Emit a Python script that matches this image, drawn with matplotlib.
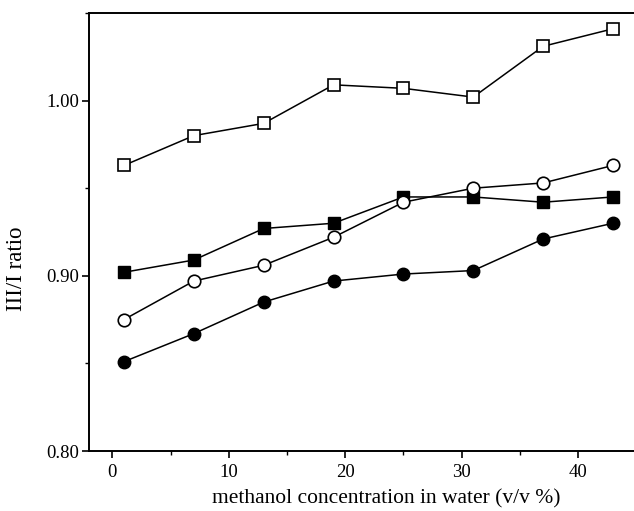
import matplotlib
matplotlib.use("Agg")
import matplotlib.pyplot as plt
from matplotlib.ticker import MultipleLocator

plt.rcParams['font.family'] = ['Liberation Serif', 'DejaVu Serif']

methanol = [1, 7, 13, 19, 25, 31, 37, 43]
open_squares = [0.963, 0.980, 0.987, 1.009, 1.007, 1.002, 1.031, 1.041]
filled_squares = [0.902, 0.909, 0.927, 0.930, 0.945, 0.945, 0.942, 0.945]
open_circles = [0.875, 0.897, 0.906, 0.922, 0.942, 0.950, 0.953, 0.963]
filled_circles = [0.851, 0.867, 0.885, 0.897, 0.901, 0.903, 0.921, 0.930]

fig = plt.figure(figsize=(6.34, 5.11), dpi=100)
ax = fig.add_axes([89/634, 60/511, 545/634, 438/511])

lw = 1.1
ax.plot(methanol, open_squares, '-s', color='black', lw=lw, ms=9, mfc='white', mec='black', mew=1.2)
ax.plot(methanol, filled_squares, '-s', color='black', lw=lw, ms=9, mfc='black', mec='black')
ax.plot(methanol, open_circles, '-o', color='black', lw=lw, ms=9, mfc='white', mec='black', mew=1.2)
ax.plot(methanol, filled_circles, '-o', color='black', lw=lw, ms=9, mfc='black', mec='black')

ax.set_xlim(-2, 44.8)
ax.set_ylim(0.80, 1.05)
ax.xaxis.set_major_locator(MultipleLocator(10))
ax.xaxis.set_minor_locator(MultipleLocator(5))
ax.yaxis.set_major_locator(MultipleLocator(0.1))
ax.yaxis.set_minor_locator(MultipleLocator(0.05))
ax.yaxis.set_major_formatter(matplotlib.ticker.FormatStrFormatter('%.2f'))

ax.spines['right'].set_visible(False)
for s in ['left', 'bottom', 'top']:
    ax.spines[s].set_linewidth(1.4)

ax.tick_params(axis='both', which='major', direction='out', length=5, width=1.2, labelsize=13.5)
ax.tick_params(axis='y', which='major', pad=2)
ax.tick_params(axis='x', which='major', pad=4)
ax.tick_params(axis='both', which='minor', direction='out', length=3, width=1.0)
ax.tick_params(axis='x', which='both', top=False)

ax.set_xlabel('methanol concentration in water (v/v %)', fontsize=15.5)
ax.set_ylabel('III/I ratio', fontsize=16.5)
ax.xaxis.set_label_coords(0.546, -0.087)
ax.yaxis.set_label_coords(-0.114, 0.415)

fig.savefig('out.png', dpi=100)
